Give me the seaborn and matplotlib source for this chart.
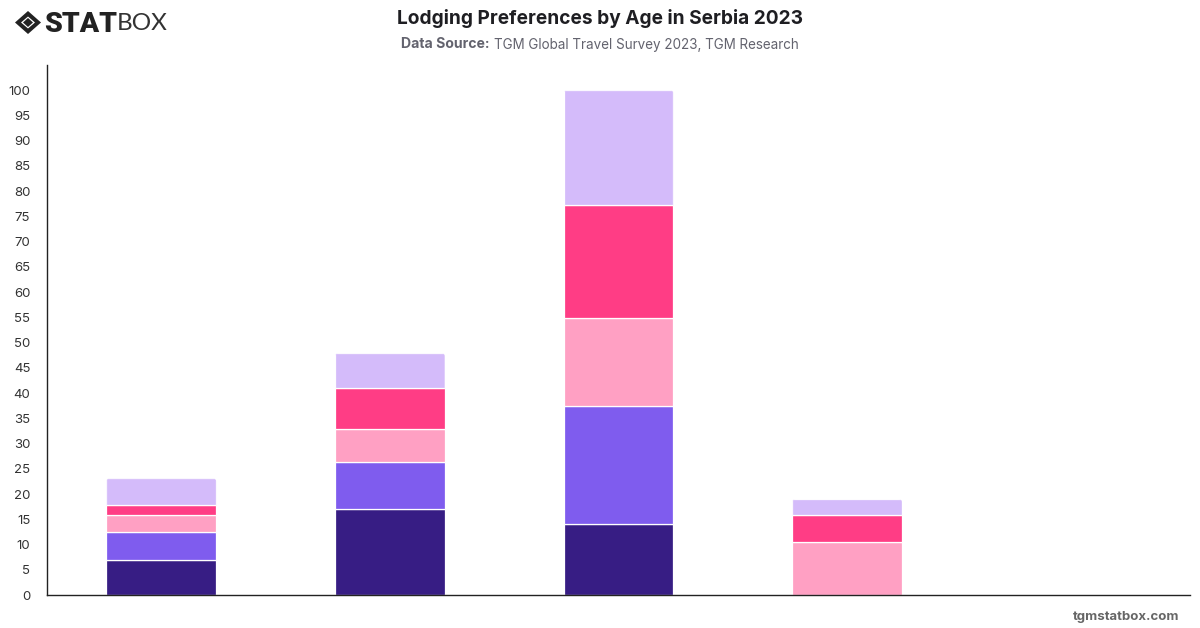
import matplotlib
matplotlib.use("Agg")
import matplotlib.pyplot as plt
from matplotlib.patches import FancyBboxPatch, Polygon
import numpy as np
import pandas as pd
import seaborn as sns

age_groups = ["Group A", "Group B", "Group C", "Group D", "Group E"]
series_names = ["Type 1", "Type 2", "Type 3", "Type 4", "Type 5"]
type_1 = [7.0, 17.0, 14.0, 0.0, 0.0]
type_2 = [5.4, 9.3, 23.5, 0.0, 0.0]
type_3 = [3.4, 6.6, 17.4, 10.5, 0.0]
type_4 = [2.0, 8.1, 22.3, 5.3, 0.0]
type_5 = [5.3, 6.9, 22.8, 3.2, 0.0]
bar_colors = ["#371D84", "#7F5CEE", "#FFA0C3", "#FF3D85", "#D4BBFA"]
y_ticks = list(range(0, 101, 5))

sns.set_theme(style="white")
plt.rcParams["font.family"] = ["Inter", "DejaVu Sans"]

fig = plt.figure(figsize=(12, 6.28), dpi=100, facecolor="white")
ax = fig.add_axes([47 / 1200, 1 - 595 / 628, 1143 / 1200, 530 / 628])

frame = pd.DataFrame(
    {"age": age_groups, **dict(zip(series_names, [type_1, type_2, type_3, type_4, type_5]))}
)

# Stack the segments one on another
bottom = np.zeros(len(age_groups))
for name, color in zip(series_names, bar_colors):
    heights = frame[name].to_numpy()
    sns.barplot(
        data=frame, x="age", y=name, order=age_groups, bottom=bottom,
        color=color, saturation=1, width=0.48, ax=ax,
        edgecolor="white", linewidth=0.9, zorder=2,
    )
    bottom = bottom + heights

ax.set_xlim(-0.5, 4.5)
ax.set_ylim(0, 105.0)
ax.set_yticks(y_ticks)
ax.set_yticklabels([str(v) for v in y_ticks])
ax.set_xticks([])
ax.set_xlabel("")
ax.set_ylabel("")
ax.tick_params(axis="y", length=0, pad=12, labelsize=9.5, labelcolor="#333333")
for side in ("top", "right"):
    ax.spines[side].set_visible(False)
for side in ("left", "bottom"):
    ax.spines[side].set_color("#222222")
    ax.spines[side].set_linewidth(1.0)
    ax.spines[side].set_zorder(5)

# Round the upper corners of the topmost segment in each stack
top_segments = {}
for patch in ax.patches:
    if patch.get_height() > 0:
        key = round(patch.get_x(), 3)
        if key not in top_segments or patch.get_y() > top_segments[key].get_y():
            top_segments[key] = patch
for patch in top_segments.values():
    x0, y0 = ax.transData.transform((patch.get_x(), patch.get_y()))
    x1, y1 = ax.transData.transform((patch.get_x() + patch.get_width(), patch.get_y() + patch.get_height()))
    clip = FancyBboxPatch(
        (x0, y0 - 10), x1 - x0, y1 - y0 + 10,
        boxstyle="round,pad=0,rounding_size=3", transform=None,
    )
    patch.set_clip_path(clip)

fig.text(600 / 1200, 1 - 18 / 628, "Lodging Preferences by Age in Serbia 2023",
         ha="center", va="center", fontsize=13.75, fontweight="bold", color="#1E1E22")

# Subtitle is made of a bold lead-in followed by a regular run
fig.text(401 / 1200, 1 - 44.5 / 628, "Data Source:", ha="left", va="center",
         fontsize=10.1, fontweight="bold", color="#63636E")
fig.text(494 / 1200, 1 - 44.5 / 628, "TGM Global Travel Survey 2023, TGM Research",
         ha="left", va="center", fontsize=9.7, color="#63636E")

fig.text(1179 / 1200, 1 - 617 / 628, "tgmstatbox.com", ha="right", va="center",
         fontsize=9.5, fontweight="bold", color="#666666")

# Brand mark: a diamond inside a chevron outline, then the wordmark
def px(x, y):
    return (x / 1200, 1 - y / 628)

mark = [
    [(15, 22.5), (28, 11), (41, 22.5), (28, 34), (15, 22.5), (21, 22.5), (28, 28.5), (35, 22.5), (28, 16.5), (21, 22.5)],
    [(23, 22.5), (28, 18), (33, 22.5), (28, 27)],
]
for shape in mark:
    fig.add_artist(Polygon([px(*p) for p in shape], closed=True, transform=fig.transFigure,
                           facecolor="#222222", edgecolor="none"))
fig.text(44.5 / 1200, 1 - 24 / 628, "STAT", ha="left", va="center", fontsize=20.5,
         fontweight="black", color="#222222", family=["Roboto", "DejaVu Sans"])
fig.text(117 / 1200, 1 - 24 / 628, "BOX", ha="left", va="center", fontsize=17.5,
         fontweight="normal", color="#333333", family=["Lato", "DejaVu Sans"])

fig.savefig("out.png", dpi=100, facecolor="white")
